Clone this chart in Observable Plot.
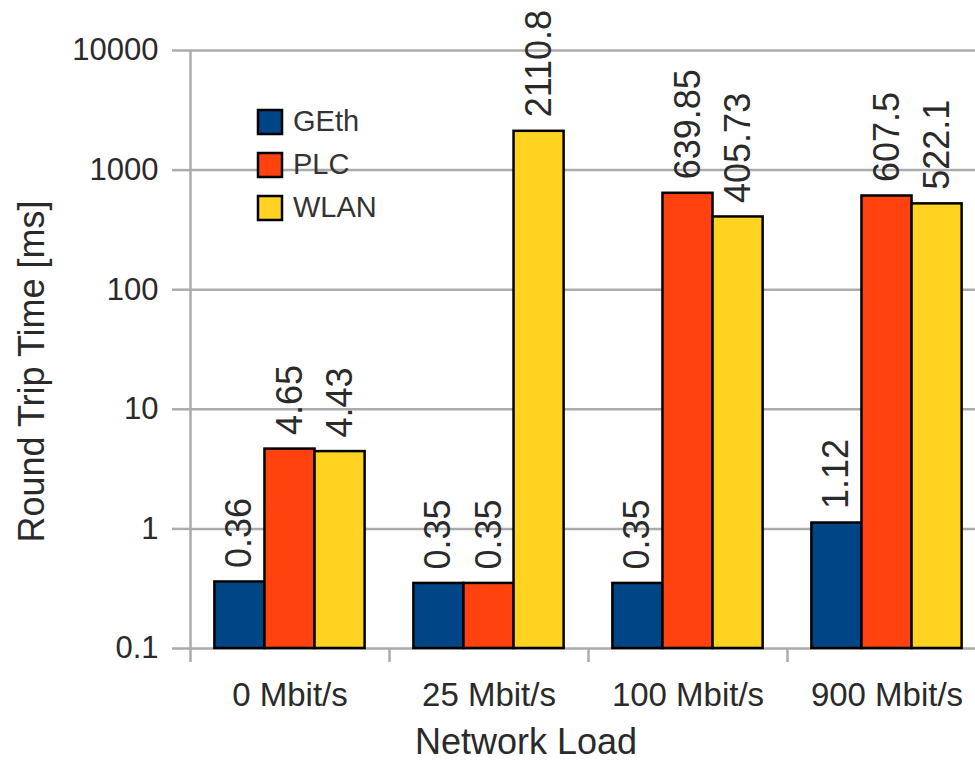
<!DOCTYPE html>
<html>
<head>
<meta charset="utf-8">
<script src="https://cdn.jsdelivr.net/npm/d3@7"></script>
<script src="https://cdn.jsdelivr.net/npm/@observablehq/plot@0.6"></script>
<style>
  html, body { margin: 0; padding: 0; background: #fff; overflow: hidden; }
  #wrap { position: relative; width: 975px; height: 762px; font-family: "Liberation Sans", Arial, sans-serif; }
  #legend { position: absolute; left: 258px; top: 100px; }
  #legend .lg-swatch { height: 43px; margin: 0; padding: 0; display: flex; align-items: center; }
  #legend .lg-swatch svg { overflow: visible; margin-right: 11px; }
  #legend .lg-swatch svg rect { stroke: #000; stroke-width: 2.5px; }
  #xtitle { position: absolute; left: 526px; top: 721px; transform: translateX(-50%); font-size: 36px; line-height: 41px; color: #2a2a2a; white-space: nowrap; }
</style>
</head>
<body>
<div id="wrap"></div>
<script>
// ---- data ----
const groups = ["0 Mbit/s", "25 Mbit/s", "100 Mbit/s", "900 Mbit/s"];
const series = ["GEth", "PLC", "WLAN"];
const gethValues = [0.36, 0.35, 0.35, 1.12];
const plcValues  = [4.65, 0.35, 639.85, 607.5];
const wlanValues = [4.43, 2110.8, 405.73, 522.1];
const yTicks = [0.1, 1, 10, 100, 1000, 10000];
const colors = ["#004586", "#ff420e", "#ffd320"];

// ---- build table ----
const seriesValues = [gethValues, plcValues, wlanValues];
const groupFill = 0.755; // share of each category occupied by its bars
const rows = groups.flatMap((g, i) => series.map((s, j) => {
  const w = groupFill / series.length;
  const x1 = i + (1 - groupFill) / 2 + j * w;
  return {group: g, series: s, value: seriesValues[j][i], x1, x2: x1 + w};
}));

const gridColor = "#ababab";
const textColor = "#2a2a2a";

const chart = Plot.plot({
  width: 975,
  height: 714,
  marginTop: 50,
  marginBottom: 66,
  marginLeft: 190,
  marginRight: -11,
  style: {fontFamily: "'Liberation Sans', Arial, sans-serif", background: "#fff", color: textColor, overflow: "visible"},
  x: {domain: [0, groups.length]},
  y: {type: "log", domain: [yTicks[0], yTicks[yTicks.length - 1]]},
  color: {domain: series, range: colors},
  marks: [
    Plot.gridY(yTicks, {stroke: gridColor, strokeOpacity: 1, strokeWidth: 2.5}),
    Plot.ruleX([0], {stroke: gridColor, strokeWidth: 2.5}),
    Plot.axisY({ticks: yTicks, tickSize: 18, tickPadding: 14, tickFormat: d => String(d),
      stroke: gridColor, strokeWidth: 2.5, strokeOpacity: 1, fontSize: 31, label: null, fill: textColor}),
    Plot.axisX({ticks: d3.range(groups.length + 1), tickSize: 14, tickFormat: () => "",
      stroke: gridColor, strokeWidth: 2.5, strokeOpacity: 1, label: null}),
    Plot.axisX({ticks: groups.map((g, i) => i + 0.5), tickSize: 0, tickPadding: 34,
      tickFormat: d => groups[Math.floor(d)], fontSize: 33, label: null, fill: textColor}),
    Plot.rect(rows, {x1: "x1", x2: "x2", y1: yTicks[0], y2: "value", fill: "series", stroke: "#000", strokeWidth: 2.5}),
    Plot.text(rows, {x: d => (d.x1 + d.x2) / 2, y: "value", text: d => String(d.value), rotate: -90,
      textAnchor: "start", lineAnchor: "middle", dy: -14, fontSize: 36, fill: textColor}),
    Plot.text(["Round Trip Time [ms]"], {frameAnchor: "left", rotate: -90, dx: -158, dy: 22,
      textAnchor: "middle", lineAnchor: "middle", fontSize: 36, fill: textColor})
  ]
});

const wrap = document.getElementById("wrap");
wrap.appendChild(chart);

const legend = Plot.legend({
  color: {domain: series, range: colors},
  legend: "swatches",
  columns: 1,
  swatchSize: 24,
  className: "lg",
  style: {fontFamily: "'Liberation Sans', Arial, sans-serif", fontSize: "29px", color: "#333", margin: 0}
});
const legendBox = document.createElement("div");
legendBox.id = "legend";
legendBox.appendChild(legend);
wrap.appendChild(legendBox);

const xtitle = document.createElement("div");
xtitle.id = "xtitle";
xtitle.textContent = "Network Load";
wrap.appendChild(xtitle);
</script>
</body>
</html>
